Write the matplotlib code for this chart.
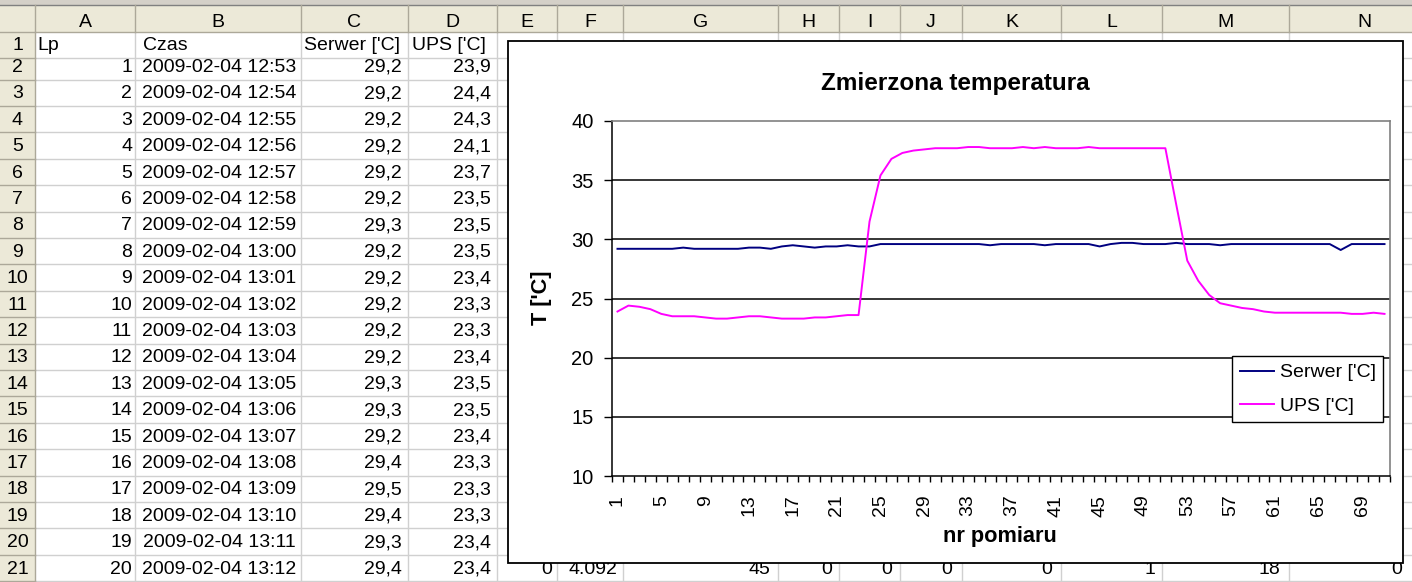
import matplotlib.pyplot as plt
from matplotlib.patches import Rectangle
import numpy as np

plt.rcParams['font.family'] = ['Liberation Sans', 'DejaVu Sans']

W, H = 1412, 582

# --- dane ---
lp = list(range(1, 21))
czas = ['2009-02-04 12:53', '2009-02-04 12:54', '2009-02-04 12:55', '2009-02-04 12:56',
        '2009-02-04 12:57', '2009-02-04 12:58', '2009-02-04 12:59', '2009-02-04 13:00',
        '2009-02-04 13:01', '2009-02-04 13:02', '2009-02-04 13:03', '2009-02-04 13:04',
        '2009-02-04 13:05', '2009-02-04 13:06', '2009-02-04 13:07', '2009-02-04 13:08',
        '2009-02-04 13:09', '2009-02-04 13:10', '2009-02-04 13:11', '2009-02-04 13:12']
serwer = [29.2, 29.2, 29.2, 29.2, 29.2, 29.2, 29.3, 29.2, 29.2, 29.2,
          29.2, 29.2, 29.3, 29.3, 29.2, 29.4, 29.5, 29.4, 29.3, 29.4,
          29.4, 29.5, 29.4, 29.4, 29.6, 29.6, 29.6, 29.6, 29.6, 29.6,
          29.6, 29.6, 29.6, 29.6, 29.5, 29.6, 29.6, 29.6, 29.6, 29.5,
          29.6, 29.6, 29.6, 29.6, 29.4, 29.6, 29.7, 29.7, 29.6, 29.6,
          29.6, 29.7, 29.6, 29.6, 29.6, 29.5, 29.6, 29.6, 29.6, 29.6,
          29.6, 29.6, 29.6, 29.6, 29.6, 29.6, 29.1, 29.6, 29.6, 29.6,
          29.6]
ups = [23.9, 24.4, 24.3, 24.1, 23.7, 23.5, 23.5, 23.5, 23.4, 23.3,
       23.3, 23.4, 23.5, 23.5, 23.4, 23.3, 23.3, 23.3, 23.4, 23.4,
       23.5, 23.6, 23.6, 31.5, 35.4, 36.8, 37.3, 37.5, 37.6, 37.7,
       37.7, 37.7, 37.8, 37.8, 37.7, 37.7, 37.7, 37.8, 37.7, 37.8,
       37.7, 37.7, 37.7, 37.8, 37.7, 37.7, 37.7, 37.7, 37.7, 37.7,
       37.7, 32.9, 28.2, 26.5, 25.3, 24.6, 24.4, 24.2, 24.1, 23.9,
       23.8, 23.8, 23.8, 23.8, 23.8, 23.8, 23.8, 23.7, 23.7, 23.8,
       23.7]
nr = np.arange(1, len(serwer) + 1)
wiersz21 = ['0', '4.092', '45', '0', '0', '0', '0', '1', '18', '0']
kolumny = list('ABCDEFGHIJKLMN')
naglowki = ['Lp', 'Czas', "Serwer ['C]", "UPS ['C]"]


def pl(v):
    return ('%.1f' % v).replace('.', ',')


fig = plt.figure(figsize=(W / 100, H / 100), dpi=100)
sh = fig.add_axes([0, 0, 1, 1])
sh.set_xlim(0, W)
sh.set_ylim(H, 0)
sh.axis('off')

col_x = [0, 35, 135, 301, 408, 497, 557, 623, 778, 839, 900, 962, 1061, 1162, 1289, 1440]
hdr_top, hdr_bot = 5, 32
base = [50] + [72 + 26.4 * k for k in range(20)]      # linie bazowe wierszy 1..21
row_bot = [hdr_bot] + [b + 7.5 for b in base]

# tlo naglowkow
sh.add_patch(Rectangle((0, 0), W, hdr_top, fc='#D4D0C8', ec='none'))
sh.add_patch(Rectangle((0, hdr_top), W, hdr_bot - hdr_top, fc='#ECE9D8', ec='none'))
sh.add_patch(Rectangle((0, hdr_bot), 35, H, fc='#ECE9D8', ec='none'))
sh.plot([0, W], [hdr_top, hdr_top], color='#808080', lw=1)

# siatka arkusza
for y in row_bot[1:]:
    sh.plot([35, W], [y, y], color='#D0D0D0', lw=1)
    sh.plot([0, 35], [y, y], color='#ACA899', lw=1)
for x in col_x[2:-1]:
    sh.plot([x, x], [hdr_bot, H], color='#D0D0D0', lw=1)
for x in col_x[1:-1]:
    sh.plot([x, x], [hdr_top, hdr_bot], color='#ACA899', lw=1)
sh.plot([0, W], [hdr_bot, hdr_bot], color='#ACA899', lw=1)
sh.plot([35, 35], [hdr_bot, H], color='#ACA899', lw=1)

fs = 14
for i, k in enumerate(kolumny):
    sh.text((col_x[i + 1] + col_x[i + 2]) / 2, 27, k, ha='center', va='baseline', fontsize=fs)
for r in range(21):
    sh.text(17.5, base[r], str(r + 1), ha='center', va='baseline', fontsize=fs)

for x, t in zip([37, 143, 304, 412], naglowki):
    sh.text(x, base[0], t, ha='left', va='baseline', fontsize=fs)
for i in range(20):
    y = base[i + 1]
    sh.text(132, y, str(lp[i]), ha='right', va='baseline', fontsize=fs)
    sh.text(296, y, czas[i], ha='right', va='baseline', fontsize=fs)
    sh.text(402, y, pl(serwer[i]), ha='right', va='baseline', fontsize=fs)
    sh.text(491, y, pl(ups[i]), ha='right', va='baseline', fontsize=fs)
for x, t in zip([552, 617, 770, 832, 892, 952, 1052, 1155, 1280, 1402], wiersz21):
    sh.text(x, base[20], t, ha='right', va='baseline', fontsize=fs)

# obszar wykresu
sh.add_patch(Rectangle((508, 41), 1403 - 508, 563 - 41, fc='white', ec='black', lw=1.3, zorder=5))
sh.text(955, 90, 'Zmierzona temperatura', ha='center', va='baseline',
        fontsize=17.5, fontweight='bold', zorder=6)
sh.text(541, 298, "T ['C]", rotation=90, ha='center', va='center',
        fontsize=15.7, fontweight='bold', zorder=6)
sh.text(1000, 542, 'nr pomiaru', ha='center', va='baseline',
        fontsize=15.7, fontweight='bold', zorder=6)

ax = fig.add_axes([612 / W, 1 - 476 / H, 778 / W, 355 / H])
for v in [15, 20, 25, 30, 35]:
    ax.axhline(v, color='black', lw=1.1, zorder=1)
ax.plot(nr, serwer, color='#000080', lw=1.4, label="Serwer ['C]", zorder=2)
ax.plot(nr, ups, color='#FF00FF', lw=1.4, label="UPS ['C]", zorder=3)

ax.set_xlim(0.5, len(nr) + 0.5)
ax.set_ylim(10, 40)
ax.set_yticks(range(10, 41, 5))
ax.set_xticks(nr[::4])
ax.set_xticklabels([str(n) for n in nr[::4]])
ax.set_xticks(np.arange(0.5, len(nr) + 1, 1), minor=True)
ax.tick_params(axis='x', which='major', length=0, pad=13.5, labelsize=14, labelrotation=90)
ax.tick_params(axis='x', which='minor', length=4.3, width=1, direction='out')
ax.tick_params(axis='y', length=5.8, width=1, pad=7.5, labelsize=14.5)
for s in ['top', 'right']:
    ax.spines[s].set_color('#808080')
    ax.spines[s].set_linewidth(1.2)
for s in ['left', 'bottom']:
    ax.spines[s].set_linewidth(1.1)

leg = ax.legend(loc='upper left', bbox_to_anchor=(1232 / W, 1 - 356 / H),
                bbox_transform=fig.transFigure, fontsize=14, fancybox=False,
                edgecolor='black', framealpha=1, borderaxespad=0, borderpad=0.4,
                handlelength=1.75, handletextpad=0.3, labelspacing=0.8)
leg.get_frame().set_linewidth(1.0)

fig.savefig('out.png', dpi=100)
